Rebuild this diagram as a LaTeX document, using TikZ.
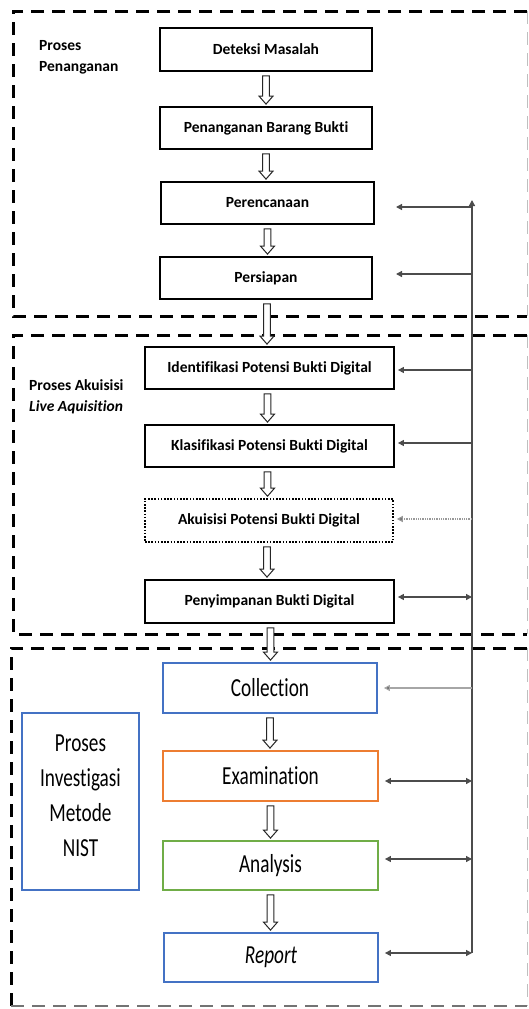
\documentclass[tikz,border=0pt]{standalone}
\usepackage{fontspec}
\setmainfont{Carlito}[Ligatures=NoCommon]
\newfontfamily\narrowfont{Carlito}[FakeStretch=0.74, Ligatures=NoCommon]
\usetikzlibrary{arrows.meta,calc}

\definecolor{nistblue}{HTML}{4472C4}
\definecolor{nistorange}{HTML}{ED7D31}
\definecolor{nistgreen}{HTML}{70AD47}

% hollow block arrow between two stacked boxes
\newcommand\hollowarrow[3][0pt]{%
  \draw[hollow] let \p1=($(#2.south)+(#1,-4pt)$), \p2=($(#3.north)+(#1,2pt)$) in
    (\x1-3.3pt,\y1) -- (\x1+3.3pt,\y1) -- (\x1+3.3pt,\y2+8pt) -- (\x1+7pt,\y2+8pt)
    -- (\x1,\y2) -- (\x1-7pt,\y2+8pt) -- (\x1-3.3pt,\y2+8pt) -- cycle;}

\tikzset{fbtip/.tip={Triangle[length=6pt,width=6pt]}}

\begin{document}
\begin{tikzpicture}[x=1pt,y=-1pt,
  stepbox/.style={draw=black, line width=1.8pt, fill=white, inner sep=0pt,
    font=\fontsize{15.5}{19}\selectfont\bfseries},
  dotbox/.style={stepbox, line width=1.6pt, dash pattern=on 1.6pt off 1.6pt},
  nistbox/.style={draw=#1, line width=1.8pt, fill=white, inner sep=0pt,
    font=\narrowfont\fontsize{26}{35}\selectfont},
  sidelabel/.style={anchor=west, align=left, inner sep=0pt,
    font=\fontsize{15.5}{21.5}\selectfont\bfseries},
  hollow/.style={draw=black!85, fill=white, line width=1pt, line join=miter},
  frame/.style={draw=black, line width=3pt, dash pattern=on 13pt off 8pt},
  faintframe/.style={draw=black!25, line width=1pt, dash pattern=on 13pt off 8pt},
  bus/.style={draw=black!70, line width=1.3pt},
  fb/.style={draw=black!70, line width=1.3pt},
]
\useasboundingbox (0,0) rectangle (528,1009);

% --- section frames ---
\draw[frame] (527,11) -- (13,11) -- (13,316) -- (527,316);
\draw[faintframe] (527,11) -- (527,316);
\draw[frame] (527,335) -- (13,335) -- (13,634) -- (527,634);
\draw[faintframe] (527,335) -- (527,634);
\draw[frame] (527,648) -- (11,648) -- (11,1006);
\draw[draw=black!55, line width=2.5pt, dash pattern=on 13pt off 8pt] (11,1006) -- (527,1006);
\draw[faintframe] (527,648) -- (527,1006);

% --- section labels ---
\node[sidelabel] (lab1) at (39,57.5) {Proses\\Penanganan};
\node[sidelabel] (lab2) at (29,397) {Proses Akuisisi\\\itshape Live Aquisition};

% --- handling steps ---
\node[stepbox, minimum width=212pt, minimum height=43pt] (det) at (266,49.5) {Deteksi Masalah};
\node[stepbox, minimum width=212pt, minimum height=42pt] (pbb) at (266,128) {Penanganan Barang Bukti};
\node[stepbox, minimum width=213pt, minimum height=42pt] (per) at (267.5,203) {Perencanaan};
\node[stepbox, minimum width=212pt, minimum height=42pt] (psp) at (266,278) {Persiapan};

% --- live acquisition steps ---
\node[stepbox, minimum width=249pt, minimum height=42pt] (idf) at (269.5,368) {Identifikasi Potensi Bukti Digital};
\node[stepbox, minimum width=249pt, minimum height=42pt] (kls) at (269.5,446) {Klasifikasi Potensi Bukti Digital};
\node[dotbox, minimum width=248pt, minimum height=43pt] (aku) at (269,520.5) {Akuisisi Potensi Bukti Digital};
\node[stepbox, minimum width=249pt, minimum height=43pt] (pny) at (269.5,601.5) {Penyimpanan Bukti Digital};

% --- NIST investigation steps ---
\node[nistbox=nistblue, minimum width=214pt, minimum height=50pt] (col) at (270,688) {Collection};
\node[nistbox=nistorange, minimum width=215pt, minimum height=50pt] (exa) at (270.5,776) {Examination};
\node[nistbox=nistgreen, minimum width=215pt, minimum height=49pt] (ana) at (270.5,865.5) {Analysis};
\node[nistbox=nistblue, minimum width=214pt, minimum height=49pt] (rep) at (271,957.5) {\itshape Report};
\node[nistbox=nistblue, minimum width=117pt, minimum height=177pt] (nist) at (80.5,801.5) {};
\node[font=\narrowfont\fontsize{26}{35}\selectfont, align=center, inner sep=0pt] (nistText)
  at ($(nist.center)+(0,-6)$) {Proses\\Investigasi\\Metode\\NIST};

% --- flow arrows ---
\hollowarrow{det}{pbb}
\hollowarrow{pbb}{per}
\hollowarrow{per}{psp}
\hollowarrow[1pt]{psp}{idf}
\hollowarrow[-2pt]{idf}{kls}
\hollowarrow[-2pt]{kls}{aku}
\hollowarrow[-2pt]{aku}{pny}
\hollowarrow[1pt]{pny}{col}
\hollowarrow{col}{exa}
\hollowarrow{exa}{ana}
\hollowarrow{ana}{rep}

% --- feedback bus ---
\coordinate (busTop) at (472,200);
\coordinate (busBot) at (472,953);
\coordinate (tipA) at (396,0);
\draw[bus, -{fbtip}] (busBot) -- (busTop);

\draw[fb, -{fbtip}] ($(per.east -| busTop)+(0,4)$) -- ($(per.east -| tipA)+(0,4)$);
\draw[fb, -{fbtip}] ($(psp.east -| busTop)+(0,-4)$) -- ($(psp.east -| tipA)+(0,-4)$);
\draw[fb, -{fbtip}] ($(idf.east -| busTop)+(0,2)$) -- ($(idf.east)+(3,2)$);
\draw[fb, -{fbtip}] ($(kls.east -| busTop)+(0,-3)$) -- ($(kls.east)+(3,-3)$);
\draw[fb, draw=black!40, densely dotted, -{Triangle[length=6pt,width=6pt,fill=black!70]}] ($(aku.east -| busTop)+(0,-1.5)$) -- ($(aku.east)+(3,-1.5)$);
\draw[fb, {fbtip}-{fbtip}] ($(pny.east)+(3,-4.5)$) -- ($(pny.east -| busTop)+(0,-4.5)$);
\draw[fb, draw=black!35, -{Triangle[length=6pt,width=6pt,fill=black!80]}] (col.east -| busTop) -- ($(col.east)+(6,0)$);
\draw[fb, {fbtip}-{fbtip}] ($(exa.east)+(6,5)$) -- ($(exa.east -| busTop)+(0,5)$);
\draw[fb, {fbtip}-{fbtip}] ($(ana.east)+(6,-6.5)$) -- ($(ana.east -| busTop)+(0,-6.5)$);
\draw[fb, {fbtip}-{fbtip}] ($(rep.east)+(6,-4.5)$) -- ($(rep.east -| busTop)+(0,-4.5)$);
\end{tikzpicture}
\end{document}
